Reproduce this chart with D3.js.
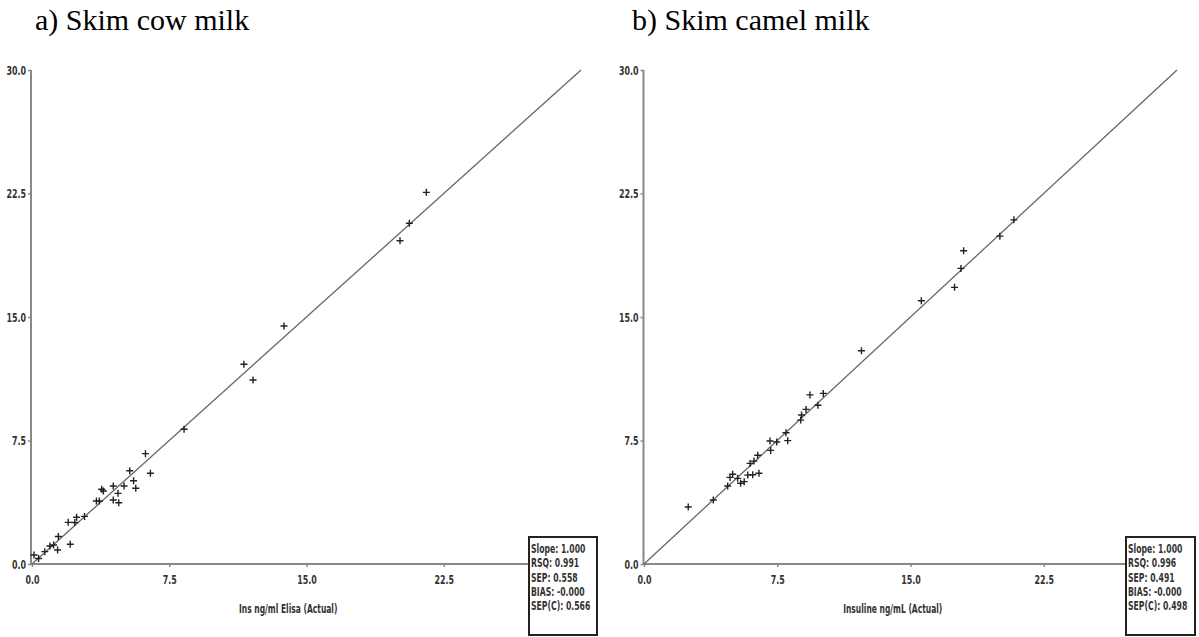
<!DOCTYPE html>
<html><head><meta charset="utf-8">
<script src="https://cdn.jsdelivr.net/npm/d3@7"></script>
<style>body{margin:0;background:#fff}svg{display:block}</style>
</head><body>
<svg id="c" width="1199" height="637"></svg>
<script>
// ---- data ----
const panelTitles = ["a) Skim cow milk", "b) Skim camel milk"];
const axisTitles = ["Ins ng/ml Elisa (Actual)", "Insuline ng/mL (Actual)"];
const tickValues = [0, 7.5, 15, 22.5, 30];
const tickLabels = ["0.0", "7.5", "15.0", "22.5", "30.0"];
const cowActual = [0.11,0.36,0.70,0.98,1.18,1.40,1.44,1.98,2.09,2.34,2.44,2.87,3.52,3.68,3.81,3.90,4.44,4.44,4.70,4.74,5.03,5.34,5.55,5.67,6.20,6.47,8.31,11.58,12.08,13.77,20.11,20.62,21.55];
const cowPredicted = [0.55,0.33,0.75,1.09,1.15,0.85,1.67,2.53,1.20,2.52,2.84,2.89,3.83,3.83,4.54,4.43,4.74,3.89,4.29,3.72,4.74,5.66,5.06,4.60,6.70,5.51,8.18,12.13,11.17,14.45,19.63,20.69,22.57];
const camelActual = [2.49,3.90,4.71,4.84,4.99,5.27,5.44,5.64,5.84,6.12,6.47,5.97,6.19,6.40,7.13,7.09,7.47,7.99,8.09,8.82,8.87,9.12,9.79,9.34,10.09,12.24,15.61,17.48,17.84,17.99,20.03,20.82];
const camelPredicted = [3.46,3.89,4.74,5.26,5.45,5.20,4.90,5.00,5.40,5.42,5.51,6.11,6.25,6.60,6.90,7.47,7.41,7.97,7.49,8.74,9.05,9.39,9.64,10.27,10.36,12.95,15.99,16.80,17.95,19.02,19.91,20.90];
const statLabels = ["Slope:", "RSQ:", "SEP:", "BIAS:", "SEP(C):"];
const cowStats = ["1.000", "0.991", "0.558", "-0.000", "0.566"];
const camelStats = ["1.000", "0.996", "0.491", "-0.000", "0.498"];

const svg = d3.select("#c");
svg.append("rect").attr("width",1199).attr("height",637).attr("fill","#fff");

const panels = [
  {title: panelTitles[0], titleX: 35, axisTitle: axisTitles[0], xs: cowActual, ys: cowPredicted, stats: cowStats,
   x0: 32, x1: 581, axisX: 31, boxX: 529, boxW: 68},
  {title: panelTitles[1], titleX: 632, axisTitle: axisTitles[1], xs: camelActual, ys: camelPredicted, stats: camelStats,
   x0: 644, x1: 1177, axisX: 643.5, boxX: 1126, boxW: 69}
];
const tickFont = "'DejaVu Sans Condensed', 'Liberation Sans Narrow', sans-serif";

function condense(sel, f) {
  sel.each(function() {
    const w = this.getComputedTextLength();
    d3.select(this).attr("textLength", w * f).attr("lengthAdjust", "spacingAndGlyphs");
  });
}

panels.forEach(p => {
  const g = svg.append("g");
  const x = d3.scaleLinear().domain([0, 30]).range([p.x0, p.x1]);
  const y = d3.scaleLinear().domain([0, 30]).range([564, 70]);

  g.append("text").attr("x", p.titleX).attr("y", 30)
    .attr("font-family", "'Liberation Serif', 'Times New Roman', serif")
    .attr("font-size", 30).attr("fill", "#000").text(p.title);

  // x axis
  const xa = g.append("g").attr("transform", `translate(0,564)`)
    .call(d3.axisBottom(x).tickValues(tickValues.slice(0,4)).tickFormat((d,i)=>tickLabels[i]).tickSize(3).tickPadding(8));
  xa.select(".domain").remove();
  xa.selectAll("line").attr("stroke", "#888").attr("stroke-width", 1.5);
  xa.selectAll("text").attr("font-family", tickFont).attr("font-weight", "bold")
    .attr("font-size", 13).attr("fill", "#333").call(condense, 0.68);
  g.append("line").attr("x1", p.axisX).attr("x2", p.boxX).attr("y1", 564).attr("y2", 564)
    .attr("stroke", "#888").attr("stroke-width", 2);

  // y axis
  const ya = g.append("g").attr("transform", `translate(${p.axisX},0)`)
    .call(d3.axisLeft(y).tickValues(tickValues).tickFormat((d,i)=>tickLabels[i]).tickSize(3).tickPadding(2));
  ya.select(".domain").remove();
  ya.selectAll("line").attr("stroke", "#888").attr("stroke-width", 1.5);
  ya.selectAll("text").attr("font-family", tickFont).attr("font-weight", "bold")
    .attr("font-size", 13).attr("fill", "#333").call(condense, 0.68);
  g.append("line").attr("x1", p.axisX).attr("x2", p.axisX).attr("y1", 70).attr("y2", 565)
    .attr("stroke", "#888").attr("stroke-width", 2);

  // axis title
  g.append("text").attr("x", x(14)).attr("y", 613).attr("text-anchor", "middle")
    .attr("font-family", tickFont).attr("font-weight", "bold").attr("font-size", 12)
    .attr("fill", "#333").text(p.axisTitle).call(condense, 0.7);

  // 1:1 line
  g.append("line").attr("x1", x(0)).attr("y1", y(0)).attr("x2", x(30)).attr("y2", y(30))
    .attr("stroke", "#666").attr("stroke-width", 1.3);

  // points
  g.selectAll("path.pt").data(p.xs.map((v,i)=>[v, p.ys[i]])).enter().append("path")
    .attr("class","pt")
    .attr("transform", d => `translate(${x(d[0])},${y(d[1])})`)
    .attr("d", "M-3.5,0H3.5M0,-3.5V3.5")
    .attr("stroke", "#222").attr("stroke-width", 1.4).attr("fill", "none");

  // stats box
  g.append("rect").attr("x", p.boxX).attr("y", 537).attr("width", p.boxW).attr("height", 98)
    .attr("fill", "#fff").attr("stroke", "#222").attr("stroke-width", 2);
  statLabels.forEach((lab, i) => {
    g.append("g").attr("transform", `translate(${p.boxX + 2},${553 + i * 14.3}) scale(0.66,1)`)
      .append("text").attr("x", 0).attr("y", 0)
      .attr("font-family", tickFont).attr("font-weight", "bold").attr("font-size", 13)
      .attr("fill", "#333").text(lab + " " + p.stats[i]);
  });
});
</script>
</body></html>
